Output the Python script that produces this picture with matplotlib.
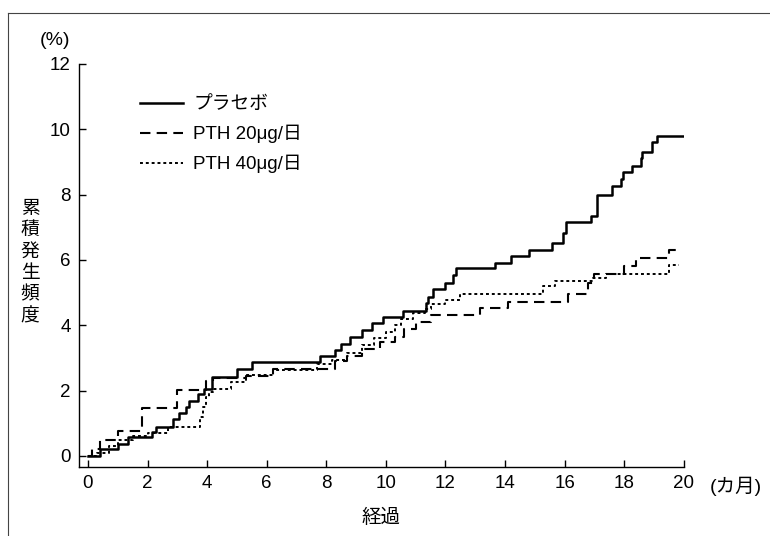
import matplotlib
matplotlib.use("Agg")
import matplotlib.pyplot as plt
from matplotlib.lines import Line2D

plt.rcParams['font.family'] = ['Liberation Sans', 'Noto Sans CJK JP', 'DejaVu Sans']

# ---- data (months, cumulative incidence %) ----
placebo_x = [0, 0.4, 1.0, 1.34, 2.15, 2.3, 2.85, 3.05, 3.3, 3.4, 3.7, 3.9, 4.15, 5.0, 5.5,
             7.8, 8.3, 8.5, 8.8, 9.2, 9.55, 9.9, 10.57, 11.34, 11.4, 11.57, 12.0, 12.25,
             12.35, 13.65, 14.2, 14.8, 15.57, 15.94, 16.04, 16.9, 17.08, 17.6, 17.9,
             17.95, 18.25, 18.55, 18.6, 18.95, 19.1, 19.97]
placebo_y = [0, 0.21, 0.37, 0.58, 0.74, 0.89, 1.13, 1.32, 1.5, 1.69, 1.9, 2.05, 2.42, 2.67, 2.88,
             3.07, 3.25, 3.44, 3.65, 3.86, 4.08, 4.26, 4.45, 4.69, 4.88, 5.12, 5.3, 5.55,
             5.74, 5.92, 6.13, 6.29, 6.53, 6.84, 7.15, 7.36, 8.0, 8.25, 8.47,
             8.68, 8.87, 9.11, 9.3, 9.6, 9.8, 9.8]

pth20_x = [0, 0.15, 0.4, 1.0, 1.8, 3.0, 3.95, 4.2, 5.3, 6.2, 8.3, 8.7, 9.2, 9.8, 10.3, 10.6,
           11.0, 11.5, 13.15, 14.1, 16.1, 16.8, 17.0, 18.0, 18.4, 19.5, 19.85]
pth20_y = [0, 0.2, 0.5, 0.75, 1.47, 2.02, 2.28, 2.4, 2.45, 2.65, 2.9, 3.05, 3.28, 3.5, 3.65, 3.9,
           4.1, 4.32, 4.53, 4.72, 4.97, 5.3, 5.58, 5.83, 6.07, 6.3, 6.3]

pth40_x = [0, 0.3, 0.7, 1.0, 1.5, 2.0, 2.7, 3.75, 3.85, 3.95, 4.05, 4.2, 4.8, 5.3, 6.2, 7.7,
           8.2, 8.7, 9.2, 9.6, 10.0, 10.3, 10.5, 10.9, 11.3, 11.5, 12.0, 12.5, 15.27, 15.67,
           16.95, 17.4, 19.5, 19.85]
pth40_y = [0, 0.1, 0.3, 0.5, 0.6, 0.7, 0.89, 1.2, 1.5, 1.8, 1.95, 2.05, 2.27, 2.48, 2.62, 2.8,
           2.95, 3.15, 3.4, 3.6, 3.8, 4.0, 4.2, 4.38, 4.5, 4.65, 4.78, 4.97, 5.2, 5.37,
           5.45, 5.58, 5.86, 5.86]

labels = ["プラセボ", "PTH 20μg/日", "PTH 40μg/日"]
xticks = [0, 2, 4, 6, 8, 10, 12, 14, 16, 18, 20]
yticks = [0, 2, 4, 6, 8, 10, 12]

fig = plt.figure(figsize=(7.7, 5.36), dpi=100)
ax = fig.add_axes([0.1026, 0.1287, 0.7854, 0.7519])

ax.plot(placebo_x, placebo_y, drawstyle='steps-post', color='black', lw=1.8, label=labels[0])
ax.plot(pth20_x, pth20_y, drawstyle='steps-post', color='black', lw=1.5,
        linestyle=(0, (5, 3)), label=labels[1])
ax.plot(pth40_x, pth40_y, drawstyle='steps-post', color='black', lw=1.4,
        linestyle=(0, (1.5, 1.5)), label=labels[2])

ax.set_xlim(-0.3, 20)
ax.set_ylim(-0.34, 12)
ax.set_xticks(xticks)
ax.set_yticks(yticks)
ax.spines['top'].set_visible(False)
ax.spines['right'].set_visible(False)
ax.tick_params(direction='in', length=5, width=1, labelsize=13.5, pad=6)
for s in ('left', 'bottom'):
    ax.spines[s].set_linewidth(1.0)

ax.set_xlabel("経過", fontsize=14, labelpad=12)
fig.text(0.039, 0.509, "累\n積\n発\n生\n頻\n度", fontsize=13.5, ha='center', va='center',
         linespacing=1.33)
fig.text(0.072, 0.925, "(%)", fontsize=14, ha='center', va='center')
fig.text(0.955, 0.092, "(カ月)", fontsize=14, ha='center', va='center')

leg = ax.legend(loc='upper left', bbox_to_anchor=(0.073, 0.962), frameon=False,
                fontsize=13.5, handlelength=2.3, handletextpad=0.55, labelspacing=0.62)

# page border (scan frame)
fig.add_artist(Line2D([0.0104, 1.0], [0.976, 0.976], transform=fig.transFigure,
                      color='#444444', lw=0.8))
fig.add_artist(Line2D([0.0104, 0.0104], [0.0, 0.976], transform=fig.transFigure,
                      color='#444444', lw=0.8))

fig.savefig("out.png", dpi=100)
